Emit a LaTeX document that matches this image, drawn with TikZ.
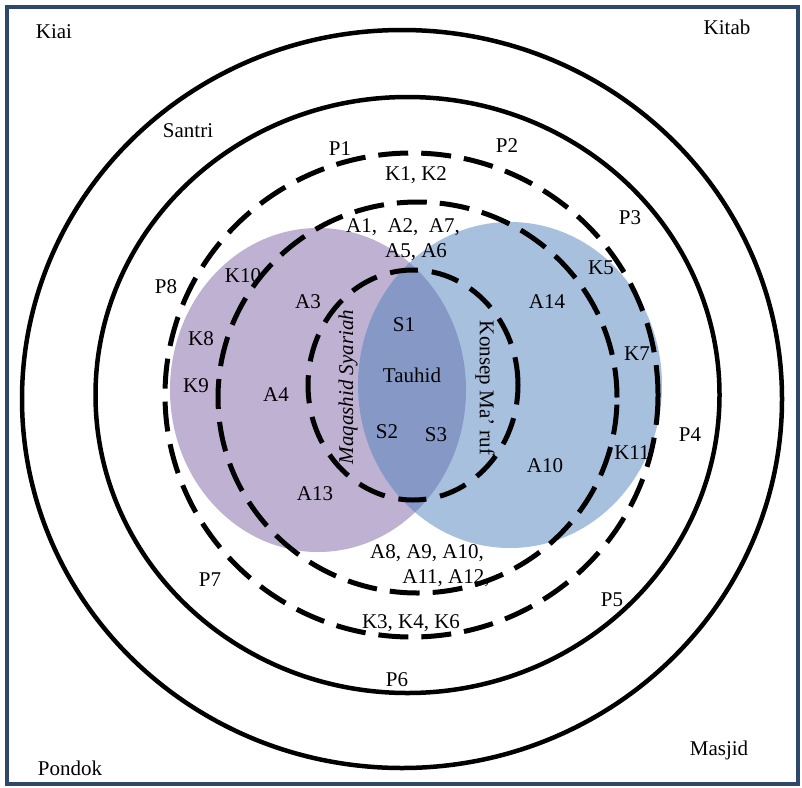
\documentclass[tikz,border=0pt]{standalone}
\usepackage{fontspec}
\setmainfont{Liberation Serif}
\begin{document}
\begin{tikzpicture}[x=1pt,y=-1pt,
  lbl/.style={inner sep=0pt, font=\fontsize{21}{24}\selectfont},
  solidring/.style={line width=4.5pt},
  dashring/.style={line width=5pt, dash pattern=on 30pt off 13pt},
  frame/.style={draw=framecol, line width=4pt}]
\definecolor{framecol}{RGB}{46,72,108}
\definecolor{maqcol}{RGB}{191,177,210}
\definecolor{konsepcol}{RGB}{167,192,222}
\definecolor{tauhidcol}{RGB}{133,152,198}
\useasboundingbox (0,0) rectangle (802,787);
\fill[white] (0,0) rectangle (802,787);

% outer frame
\draw[frame] (6.5,6.5) rectangle (797.5,783.5);

% the two overlapping fields and their shared lens
\fill[maqcol] (318,390) ellipse [x radius=148pt, y radius=162pt];
\fill[konsepcol] (510,385) ellipse [x radius=152pt, y radius=163pt];
\begin{scope}
  \clip (510,385) ellipse [x radius=152pt, y radius=163pt];
  \fill[tauhidcol] (318,390) ellipse [x radius=148pt, y radius=162pt];
\end{scope}

% solid rings
\draw[solidring] (402,399) ellipse [x radius=380pt, y radius=369pt];
\draw[solidring] (407.5,395) ellipse [x radius=312pt, y radius=298pt];

% dashed rings
\draw[dashring] (411.5,395) ellipse [x radius=246.5pt, y radius=242pt];
\draw[dashring] (417.5,397.5) ellipse [x radius=199.5pt, y radius=195.5pt];
\draw[dashring, dash pattern=on 28pt off 14pt] (413,385) ellipse [x radius=105pt, y radius=115pt];

% corner labels
\node[lbl] (kiai) at (54,32) {Kiai};
\node[lbl] (kitab) at (727,27) {Kitab};
\node[lbl] (pondok) at (70,768) {Pondok};
\node[lbl] (masjid) at (719,750) {Masjid};
\node[lbl] (santri) at (188,131) {Santri};

% P labels
\node[lbl] (p1) at (340,149) {P1};
\node[lbl] (p2) at (507,146) {P2};
\node[lbl] (p3) at (630,218) {P3};
\node[lbl] (p4) at (690,435) {P4};
\node[lbl] (p5) at (612,600) {P5};
\node[lbl] (p6) at (397,680) {P6};
\node[lbl] (p7) at (210,580) {P7};
\node[lbl] (p8) at (166,287) {P8};

% K labels
\node[lbl] (k12) at (416,175) {K1, K2};
\node[lbl] (k10) at (243,276) {K10};
\node[lbl] (k5) at (601,268) {K5};
\node[lbl] (k8) at (201,339) {K8};
\node[lbl] (k7) at (637,354) {K7};
\node[lbl] (k9) at (196,386) {K9};
\node[lbl] (k11) at (632,453) {K11};
\node[lbl] (k346) at (411,623) {K3, K4, K6};

% A labels
\node[lbl] (atop1) at (403,227) {A1, \ A2, \ A7,};
\node[lbl] (atop2) at (416,252) {A5, A6};
\node[lbl] (a3) at (308,302) {A3};
\node[lbl] (a14) at (547,302) {A14};
\node[lbl] (a4) at (276,395) {A4};
\node[lbl] (a10) at (545,466) {A10};
\node[lbl] (a13) at (315,494) {A13};
\node[lbl] (abot1) at (427,553) {A8, A9, A10,};
\node[lbl] (abot2) at (446,578) {A11, A12,};

% centre labels
\node[lbl] (s1) at (404,325) {S1};
\node[lbl] (tauhid) at (412,375) {Tauhid};
\node[lbl] (s2) at (387,432) {S2};
\node[lbl] (s3) at (436,435) {S3};
\node[lbl, rotate=90, font=\fontsize{21}{24}\selectfont\itshape] (maq) at (348,387) {Maqashid Syariah};
\node[lbl, rotate=-90] (konsep) at (485,388) {Konsep Ma’ ruf};
\end{tikzpicture}
\end{document}
